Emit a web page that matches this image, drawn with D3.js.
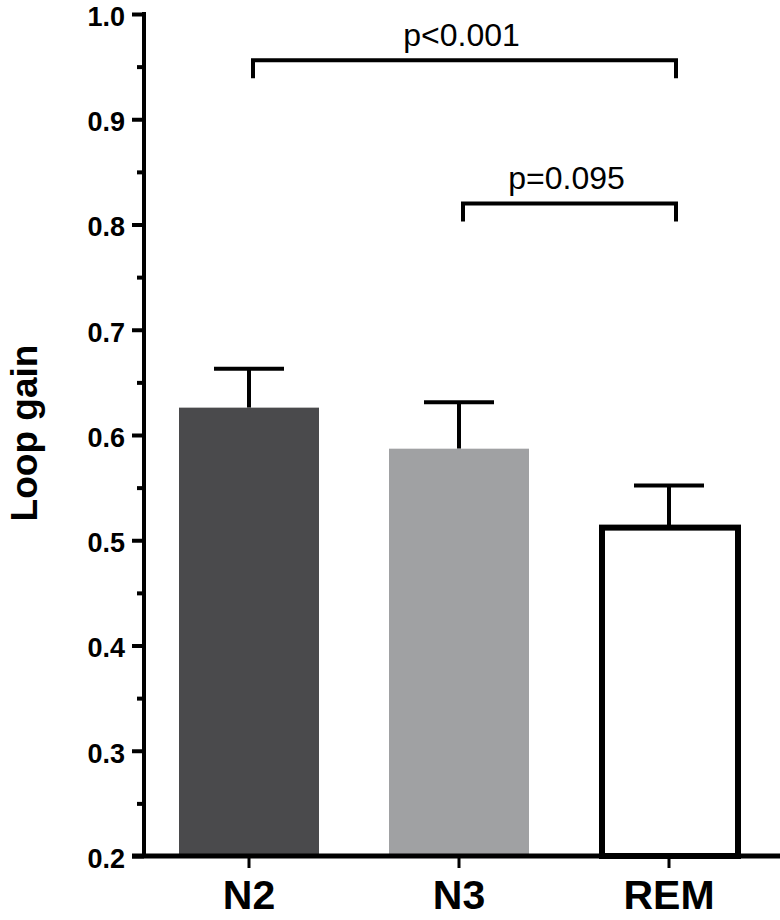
<!DOCTYPE html>
<html>
<head>
<meta charset="utf-8">
<script src="https://cdn.jsdelivr.net/npm/d3@7"></script>
<style>
  html, body { margin: 0; padding: 0; background: #fff; }
  svg { display: block; font-family: "Liberation Sans", Arial, sans-serif; }
</style>
</head>
<body>
<svg id="chart" width="780" height="920"></svg>
<script>
const categories = ["N2", "N3", "REM"];
const meanValues = [0.626, 0.587, 0.512];
const semValues = [0.037, 0.044, 0.040];
const barFills = ["#4a4a4c", "#a0a1a3", "#ffffff"];
const yTickValues = [0.2, 0.3, 0.4, 0.5, 0.6, 0.7, 0.8, 0.9, 1.0];
const yMinorTickValues = [0.25, 0.35, 0.45, 0.55, 0.65, 0.75, 0.85, 0.95];
const comparisonFrom = ["N2", "N3"];
const comparisonTo = ["REM", "REM"];
const comparisonLevel = [0.956, 0.820];
const comparisonLabels = ["p<0.001", "p=0.095"];
const yTitle = "Loop gain";

const svg = d3.select("#chart");
const axisX = 144, baseY = 856;

const y = d3.scaleLinear().domain([0.2, 1.0]).range([baseY, 14]);
const x = d3.scaleBand().domain(categories).range([axisX, 774])
  .paddingInner(1/3).paddingOuter(1/6);

const bars = categories.map((c, i) => ({c, m: meanValues[i], s: semValues[i], f: barFills[i]}));

// Error bars (drawn behind bars)
const eb = svg.append("g");
bars.forEach(d => {
  const cx = x(d.c) + x.bandwidth() / 2;
  eb.append("line").attr("x1", cx).attr("x2", cx)
    .attr("y1", y(d.m)).attr("y2", y(d.m + d.s))
    .attr("stroke", "#000").attr("stroke-width", 4);
  eb.append("line").attr("x1", cx - x.bandwidth() / 4).attr("x2", cx + x.bandwidth() / 4)
    .attr("y1", y(d.m + d.s)).attr("y2", y(d.m + d.s))
    .attr("stroke", "#000").attr("stroke-width", 4);
});

svg.append("g").selectAll("rect").data(bars).join("rect")
  .attr("x", d => d.f === "#ffffff" ? x(d.c) + 3 : x(d.c))
  .attr("width", d => d.f === "#ffffff" ? x.bandwidth() - 4 : x.bandwidth())
  .attr("y", d => y(d.m))
  .attr("height", d => baseY - y(d.m))
  .attr("fill", d => d.f)
  .attr("stroke", d => d.f === "#ffffff" ? "#000" : "none")
  .attr("stroke-width", 6);

// Y axis
const yAxis = svg.append("g").attr("transform", `translate(${axisX},0)`)
  .call(d3.axisLeft(y).tickValues(yTickValues).tickFormat(d3.format(".1f")).tickSize(12).tickPadding(7));
yAxis.select(".domain").remove();
yAxis.selectAll(".tick line").attr("stroke", "#000").attr("stroke-width", 4);
yAxis.selectAll(".tick text")
  .attr("font-size", 27).attr("font-weight", "bold").attr("fill", "#000")
  .attr("dy", "0.42em");
svg.append("g").attr("transform", `translate(${axisX},0)`)
  .call(d3.axisLeft(y).tickValues(yMinorTickValues).tickFormat("").tickSize(7))
  .call(g => g.select(".domain").remove())
  .selectAll(".tick line").attr("stroke", "#000").attr("stroke-width", 4);
svg.append("line").attr("x1", axisX).attr("x2", axisX)
  .attr("y1", y(1.0) - 2).attr("y2", baseY + 2)
  .attr("stroke", "#000").attr("stroke-width", 4);

// X axis
const xAxis = svg.append("g").attr("transform", `translate(0,${baseY})`)
  .call(d3.axisBottom(x).tickSize(12).tickPadding(12));
xAxis.select(".domain").remove();
xAxis.selectAll(".tick line").attr("stroke", "#000").attr("stroke-width", 3);
xAxis.selectAll(".tick text")
  .attr("font-size", 41).attr("font-weight", "bold").attr("fill", "#000");
svg.append("line").attr("x1", 132).attr("x2", 780)
  .attr("y1", baseY).attr("y2", baseY)
  .attr("stroke", "#000").attr("stroke-width", 5);

// Y title
svg.append("text")
  .attr("transform", `translate(37,433) rotate(-90)`)
  .attr("text-anchor", "middle")
  .attr("font-size", 37).attr("font-weight", "bold")
  .text(yTitle);

// Significance brackets
comparisonLabels.forEach((lab, i) => {
  const x1 = x(comparisonFrom[i]) + x.bandwidth() / 2 + 4;
  const x2 = x(comparisonTo[i]) + x.bandwidth() / 2 + 7;
  const yy = y(comparisonLevel[i]);
  svg.append("path")
    .attr("d", `M${x1},${yy + 18}V${yy}H${x2}V${yy + 18}`)
    .attr("fill", "none").attr("stroke", "#000").attr("stroke-width", 4);
  svg.append("text")
    .attr("x", (x1 + x2) / 2 - 3).attr("y", yy - 14)
    .attr("text-anchor", "middle")
    .attr("font-size", 32)
    .text(lab);
});
</script>
</body>
</html>
